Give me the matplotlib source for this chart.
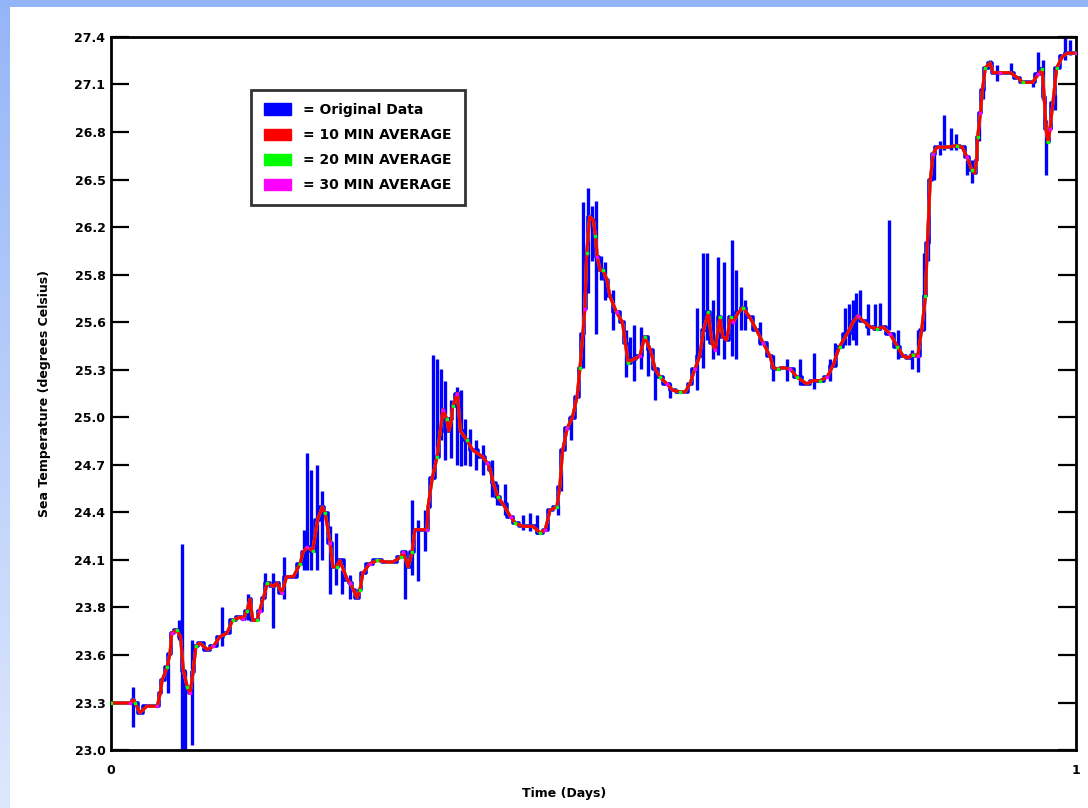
import numpy as np
import matplotlib
matplotlib.use("Agg")
import matplotlib.pyplot as plt
from matplotlib.patches import Patch

# *------------- datos -------------------------------------*
# tiempo (dias) y promedio de 10 min
t_avg = [0.000, 0.020, 0.023, 0.025, 0.030, 0.037, 0.048, 0.051, 0.053, 0.058,
         0.061, 0.063, 0.068, 0.072, 0.075, 0.079, 0.082, 0.085, 0.088, 0.092,
         0.100, 0.106, 0.113, 0.120, 0.126, 0.134, 0.137, 0.141, 0.144, 0.147,
         0.151, 0.154, 0.158, 0.162, 0.168, 0.172, 0.177, 0.182, 0.189, 0.196,
         0.199, 0.203, 0.209, 0.214, 0.219, 0.222, 0.227, 0.230, 0.234, 0.237,
         0.245, 0.248, 0.251, 0.255, 0.258, 0.261, 0.268, 0.276, 0.286, 0.292,
         0.300, 0.303, 0.308, 0.312, 0.315, 0.323, 0.3275, 0.3285, 0.333, 0.338,
         0.341, 0.344, 0.348, 0.350, 0.353, 0.354, 0.359, 0.362, 0.369, 0.375,
         0.385, 0.390, 0.393, 0.396, 0.401, 0.406, 0.414, 0.419, 0.427, 0.437,
         0.445, 0.450, 0.455, 0.462, 0.465, 0.468, 0.473, 0.478, 0.483, 0.486,
         0.489, 0.491, 0.493, 0.496, 0.500, 0.502, 0.504, 0.507, 0.510, 0.514,
         0.517, 0.524, 0.530, 0.533, 0.536, 0.541, 0.548, 0.553, 0.559, 0.564,
         0.569, 0.576, 0.582, 0.590, 0.595, 0.600, 0.605, 0.610, 0.614, 0.619,
         0.623, 0.626, 0.631, 0.634, 0.638, 0.642, 0.645, 0.650, 0.655, 0.662,
         0.669, 0.676, 0.683, 0.686, 0.691, 0.696, 0.704, 0.711, 0.721, 0.728,
         0.735, 0.742, 0.748, 0.755, 0.763, 0.769, 0.774, 0.779, 0.787, 0.794,
         0.800, 0.807, 0.815, 0.821, 0.826, 0.831, 0.836, 0.840, 0.844, 0.846,
         0.849, 0.852, 0.856, 0.866, 0.877, 0.882, 0.887, 0.892, 0.895, 0.897,
         0.898, 0.901, 0.903, 0.906, 0.911, 0.914, 0.921, 0.932, 0.939, 0.945,
         0.955, 0.961, 0.965, 0.967, 0.969, 0.971, 0.973, 0.976, 0.980, 0.986,
         0.991, 1.000]
avg10 = [23.29, 23.29, 23.31, 23.29, 23.23, 23.27, 23.27, 23.35, 23.43, 23.51,
         23.59, 23.72, 23.74, 23.70, 23.49, 23.39, 23.35, 23.48, 23.64, 23.66,
         23.62, 23.64, 23.70, 23.72, 23.80, 23.82, 23.81, 23.86, 23.93, 23.80,
         23.80, 23.86, 23.94, 24.03, 24.01, 24.03, 23.97, 24.07, 24.07, 24.15,
         24.22, 24.25, 24.23, 24.42, 24.50, 24.46, 24.28, 24.13, 24.13, 24.17,
         24.05, 24.03, 23.99, 23.94, 23.99, 24.09, 24.15, 24.17, 24.16, 24.16,
         24.19, 24.22, 24.13, 24.22, 24.36, 24.36, 24.36, 24.50, 24.68, 24.81,
         24.96, 25.10, 25.04, 24.97, 25.04, 25.12, 25.20, 24.97, 24.91, 24.85,
         24.81, 24.77, 24.73, 24.65, 24.56, 24.52, 24.44, 24.40, 24.38, 24.38,
         24.34, 24.36, 24.48, 24.50, 24.62, 24.85, 24.99, 25.05, 25.18, 25.36,
         25.57, 25.72, 26.07, 26.29, 26.27, 26.17, 26.04, 25.96, 25.96, 25.90,
         25.80, 25.70, 25.64, 25.51, 25.39, 25.41, 25.43, 25.55, 25.47, 25.35,
         25.30, 25.26, 25.22, 25.21, 25.21, 25.26, 25.35, 25.43, 25.59, 25.70,
         25.51, 25.47, 25.67, 25.55, 25.53, 25.67, 25.64, 25.70, 25.73, 25.67,
         25.59, 25.51, 25.43, 25.36, 25.35, 25.36, 25.35, 25.30, 25.26, 25.28,
         25.28, 25.30, 25.37, 25.49, 25.57, 25.64, 25.68, 25.65, 25.61, 25.60,
         25.61, 25.57, 25.49, 25.43, 25.42, 25.44, 25.43, 25.59, 25.80, 26.13,
         26.52, 26.68, 26.72, 26.72, 26.73, 26.72, 26.66, 26.58, 26.56, 26.64,
         26.78, 26.93, 27.07, 27.21, 27.24, 27.18, 27.18, 27.18, 27.15, 27.12,
         27.12, 27.17, 27.20, 27.03, 26.83, 26.75, 26.83, 26.99, 27.21, 27.28,
         27.30, 27.30]

# picos del dato original (tiempo, minimo, maximo)
spike_t = [0.0228, 0.0736, 0.0767, 0.0839, 0.0591, 0.0705, 0.1150, 0.1420, 0.1679, 0.1596,
           0.1793, 0.2031, 0.2073, 0.2135, 0.2187, 0.2000, 0.2269, 0.2332, 0.2394, 0.2477,
           0.3047, 0.3119, 0.3181, 0.3254, 0.3337, 0.3378, 0.3420, 0.3461, 0.3523, 0.3585,
           0.3627, 0.3668, 0.3720, 0.3782, 0.3855, 0.3948, 0.4000, 0.4083, 0.4269, 0.4342,
           0.4415, 0.4632, 0.4663, 0.4767, 0.4891, 0.4943, 0.4984, 0.5026, 0.5078, 0.5119,
           0.5202, 0.5337, 0.5378, 0.5420, 0.5492, 0.5565, 0.5637, 0.5793, 0.6073, 0.6135,
           0.6176, 0.6238, 0.6290, 0.6352, 0.6435, 0.6477, 0.6528, 0.6570, 0.6725, 0.6860,
           0.7005, 0.7140, 0.7285, 0.7451, 0.7503, 0.7606, 0.7648, 0.7689, 0.7720, 0.7762,
           0.7845, 0.7917, 0.7969, 0.8062, 0.8155, 0.8301, 0.8363, 0.8425, 0.8466, 0.8528,
           0.8591, 0.8632, 0.8705, 0.8756, 0.8870, 0.8922, 0.8995, 0.9036, 0.9109, 0.9181,
           0.9326, 0.9554, 0.9606, 0.9658, 0.9689, 0.9782, 0.9886, 0.9938]
spike_lo = [23.14, 23.00, 23.00, 23.03, 23.35, 23.68, 23.64, 23.80, 23.75, 23.96,
            23.93, 24.11, 24.11, 24.11, 24.17, 24.11, 23.96, 24.02, 23.96, 23.93,
            23.93, 24.08, 24.04, 24.23, 24.67, 24.82, 24.91, 24.79, 24.80, 24.76,
            24.75, 24.76, 24.75, 24.73, 24.70, 24.56, 24.51, 24.45, 24.36, 24.35,
            24.33, 24.45, 24.60, 24.91, 25.36, 25.82, 26.02, 25.57, 25.90, 25.78,
            25.59, 25.30, 25.41, 25.28, 25.35, 25.31, 25.16, 25.17, 25.22, 25.36,
            25.53, 25.41, 25.44, 25.41, 25.43, 25.41, 25.59, 25.59, 25.50, 25.28,
            25.28, 25.25, 25.23, 25.28, 25.41, 25.50, 25.50, 25.53, 25.50, 25.65,
            25.56, 25.59, 25.59, 25.59, 25.41, 25.35, 25.33, 25.59, 26.02, 26.52,
            26.67, 26.70, 26.70, 26.70, 26.55, 26.50, 26.76, 27.02, 27.20, 27.13,
            27.18, 27.09, 27.17, 27.01, 26.55, 26.95, 27.26, 27.29]
spike_hi = [23.39, 24.27, 23.49, 23.68, 23.54, 23.80, 23.88, 23.96, 24.09, 24.09,
            24.19, 24.83, 24.73, 24.76, 24.60, 24.36, 24.38, 24.34, 24.11, 24.08,
            24.20, 24.54, 24.42, 24.48, 25.44, 25.41, 25.35, 25.28, 25.16, 25.24,
            25.22, 25.04, 24.98, 24.91, 24.88, 24.79, 24.64, 24.64, 24.45, 24.46,
            24.45, 24.51, 24.73, 25.07, 26.38, 26.47, 26.36, 26.39, 26.05, 26.01,
            25.84, 25.59, 25.55, 25.62, 25.61, 25.50, 25.35, 25.26, 25.73, 26.07,
            26.07, 25.78, 26.04, 26.01, 26.15, 25.96, 25.86, 25.78, 25.64, 25.44,
            25.41, 25.41, 25.45, 25.41, 25.51, 25.73, 25.75, 25.78, 25.82, 25.84,
            25.75, 25.75, 25.76, 26.27, 25.59, 25.47, 25.59, 26.07, 26.27, 26.70,
            26.76, 26.92, 26.84, 26.80, 26.64, 26.64, 26.89, 27.10, 27.26, 27.23,
            27.24, 27.13, 27.31, 27.26, 26.89, 27.04, 27.40, 27.38]

y_ticks = [23.0, 23.293, 23.587, 23.88, 24.173, 24.467, 24.76, 25.053,
           25.347, 25.64, 25.933, 26.227, 26.52, 26.813, 27.107, 27.4]
y_labels = ["23.0", "23.3", "23.6", "23.8", "24.1", "24.4", "24.7", "25.0",
            "25.3", "25.6", "25.8", "26.2", "26.5", "26.8", "27.1", "27.4"]
leyenda = ["= Original Data", "= 10 MIN AVERAGE", "= 20 MIN AVERAGE", "= 30 MIN AVERAGE"]
colores = ["#0000ff", "#ff0000", "#00ff00", "#ff00ff"]

fig = plt.figure(figsize=(10.88, 8.08), dpi=100)

# *------------- fondo azul del marco ------------------*
bg = fig.add_axes([0, 0, 1, 1], zorder=-10)
grad = np.ones((808, 1088, 3))
fade = np.linspace(0, 1, 808)[:, None]
left_col = np.array([0.58, 0.71, 0.97]) * (1 - fade) + np.array([0.87, 0.91, 0.99]) * fade
grad[:, :10, :] = left_col[:, None, :]
grad[:7, :, :] = [0.58, 0.71, 0.97]
bg.imshow(grad, aspect="auto", extent=[0, 1, 0, 1])
bg.axis("off")

ax = fig.add_axes([111 / 1088, 58 / 808, 965 / 1088, 713 / 808])

t_arr = np.array(t_avg)
v_arr = np.array(avg10)
ax.plot(t_arr, v_arr, color=colores[0], lw=2.6, drawstyle="steps-mid", zorder=2)
ax.vlines(spike_t, spike_lo, spike_hi, color=colores[0], lw=2.4, zorder=2)
# promedios de 20 y 30 min casi iguales al de 10, quedan debajo
ax.plot(t_arr, v_arr, color=colores[3], lw=2.2, zorder=3)
ax.plot(t_arr, v_arr, color=colores[2], lw=2.2, zorder=4)
ax.plot(t_arr, v_arr, color=colores[1], lw=2.2, zorder=5)
ax.plot(t_arr[::3], v_arr[::3], ls="none", marker="s", ms=1.8, color=colores[2], zorder=6)
ax.plot(t_arr[1::5], v_arr[1::5], ls="none", marker="s", ms=1.8, color=colores[3], zorder=6)

ax.set_xlim(0, 1)
ax.set_ylim(23.0, 27.4)
ax.set_xticks([0, 1])
ax.set_xticklabels(["0", "1"], fontsize=9, fontweight="bold")
ax.set_yticks(y_ticks)
ax.set_yticklabels(y_labels, fontsize=9, fontweight="bold")
ax.tick_params(axis="x", length=0, pad=10)
ax.tick_params(axis="y", direction="in", length=13, width=1.6, right=True, pad=4)
for s in ax.spines.values():
    s.set_linewidth(2)
ax.set_xlabel("Time (Days)", fontsize=9, fontweight="bold")
ax.xaxis.set_label_coords(0.47, -0.052)
ax.set_ylabel("Sea Temperature (degrees Celsius)", fontsize=9, fontweight="bold")
ax.yaxis.set_label_coords(-0.062, 0.5)

handles = [Patch(facecolor=c, edgecolor=c) for c in colores]
leg = ax.legend(handles, leyenda, loc="upper left", bbox_to_anchor=(0.145, 0.926),
                borderaxespad=0, fancybox=False, frameon=True, prop={"size": 10, "weight": "bold"},
                handlelength=1.9, handleheight=0.9, handletextpad=0.9,
                labelspacing=0.8, borderpad=0.95)
leg.get_frame().set_edgecolor("black")
leg.get_frame().set_linewidth(2)

fig.savefig("out.png", dpi=100)
